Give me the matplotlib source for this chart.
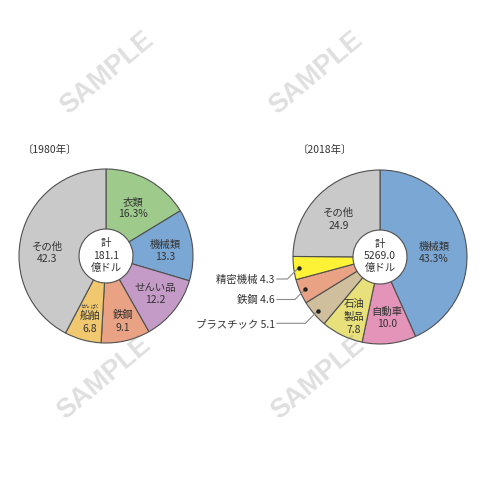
import matplotlib
matplotlib.use("Agg")
import matplotlib.pyplot as plt
import numpy as np

plt.rcParams['font.family'] = ['Noto Sans CJK JP', 'DejaVu Sans']

# ---- data ----
cats_1980 = ['衣類', '機械類', 'せんい品', '鉄鋼', '船舶', 'その他']
vals_1980 = [16.3, 13.3, 12.2, 9.1, 6.8, 42.3]
total_1980 = '181.1'

cats_2018 = ['機械類', '自動車', '石油製品', 'プラスチック', '鉄鋼', '精密機械', 'その他']
vals_2018 = [43.3, 10.0, 7.8, 5.1, 4.6, 4.3, 24.9]
total_2018 = '5269.0'

titles = ['〔1980年〕', '〔2018年〕']

colors_1980 = ['#9ecb8c', '#7ba7d4', '#c49bc6', '#e9a283', '#f0c870', '#c9c9ca']
colors_2018 = ['#7ba7d4', '#e394b8', '#e8e07a', '#cfbf9c', '#e9a283', '#fef236', '#c9c9ca']

W = H = 480
fig = plt.figure(figsize=(4.8, 4.8), dpi=100)
ax = fig.add_axes([0, 0, 1, 1])

def Y(yp):
    return H - yp

R = 87
HOLE = 27
EC = '#505050'
TXT = '#333333'
FS = 7.5
VOFF = 0.8  # visual centering correction for CJK glyphs

c1 = (106, 256)
c2 = (380, 257)

w1, _ = ax.pie(vals_1980, radius=R, center=(c1[0], Y(c1[1])), startangle=90,
               counterclock=False, colors=colors_1980,
               wedgeprops=dict(width=R - HOLE, edgecolor=EC, linewidth=0.8))
w2, _ = ax.pie(vals_2018, radius=R, center=(c2[0], Y(c2[1])), startangle=90,
               counterclock=False, colors=colors_2018,
               wedgeprops=dict(width=R - HOLE, edgecolor=EC, linewidth=0.8))

ax.set_xlim(0, W)
ax.set_ylim(0, H)
ax.set_aspect('equal')
ax.axis('off')

def lines(x, y_list, strs, fs=FS):
    for yy, s in zip(y_list, strs):
        ax.text(x, Y(yy + VOFF), s, ha='center', va='center', fontsize=fs, color=TXT, zorder=5)

# titles
ax.text(50, Y(149 + VOFF), titles[0], ha='center', va='center', fontsize=FS, color=TXT)
ax.text(325, Y(149 + VOFF), titles[1], ha='center', va='center', fontsize=FS, color=TXT)

# 1980 labels
lines(133, [201, 213], [cats_1980[0], f'{vals_1980[0]}%'])
lines(165, [244.5, 256.5], [cats_1980[1], f'{vals_1980[1]}'])
lines(155, [287.5, 299.5], [cats_1980[2], f'{vals_1980[2]}'])
lines(123, [314, 327], [cats_1980[3], f'{vals_1980[3]}'])
lines(90, [315.5, 328.5], [cats_1980[4], f'{vals_1980[4]}'])
ax.text(85.5, Y(306), 'せん', ha='center', va='center', fontsize=3.4, color=TXT, zorder=5)
ax.text(95, Y(306), 'ぱく', ha='center', va='center', fontsize=3.4, color=TXT, zorder=5)
lines(47, [246.5, 258.5], [cats_1980[5], f'{vals_1980[5]}'])
lines(c1[0], [242, 255, 267], ['計', total_1980, '億ドル'])

# 2018 labels
lines(434, [246.5, 258.5], [cats_2018[0], f'{vals_2018[0]}%'])
lines(387, [311.5, 323], [cats_2018[1], f'{vals_2018[1]:.1f}'])
lines(354, [303, 316, 329], [cats_2018[2][:2], cats_2018[2][2:], f'{vals_2018[2]}'])
lines(338.5, [212, 225], [cats_2018[6], f'{vals_2018[6]}'])
lines(c2[0], [243.5, 255, 267], ['計', total_2018, '億ドル'])

# leader lines for small slices
text_y = {3: 323.3, 4: 299.5, 5: 279}
for i in (3, 4, 5):
    wdg = w2[i]
    mid = np.deg2rad((wdg.theta1 + wdg.theta2) / 2)
    rd = 0.94 * R
    dx = c2[0] + rd * np.cos(mid)
    dy = wdg.center[1] + rd * np.sin(mid)
    ty = Y(text_y[i])
    ex = dx - (dy - ty)
    ax.plot([277, ex, dx], [ty, ty, dy], color='#8a8a8a', lw=0.8, zorder=4)
    ax.plot([dx], [dy], 'o', color='#222222', ms=2.2, zorder=5)
    ax.text(274.5, Y(text_y[i] + VOFF), f'{cats_2018[i]} {vals_2018[i]}', ha='right',
            va='center', fontsize=FS, color=TXT)

# watermarks
for (x, y) in [(107, 73), (316, 73), (104, 378), (318, 378)]:
    ax.text(x, Y(y), 'SAMPLE', ha='center', va='center', rotation=40,
            fontsize=19.5, fontweight='bold', family='Liberation Sans',
            color='#808080', alpha=0.25, zorder=10)

fig.savefig('out.png', dpi=100)
